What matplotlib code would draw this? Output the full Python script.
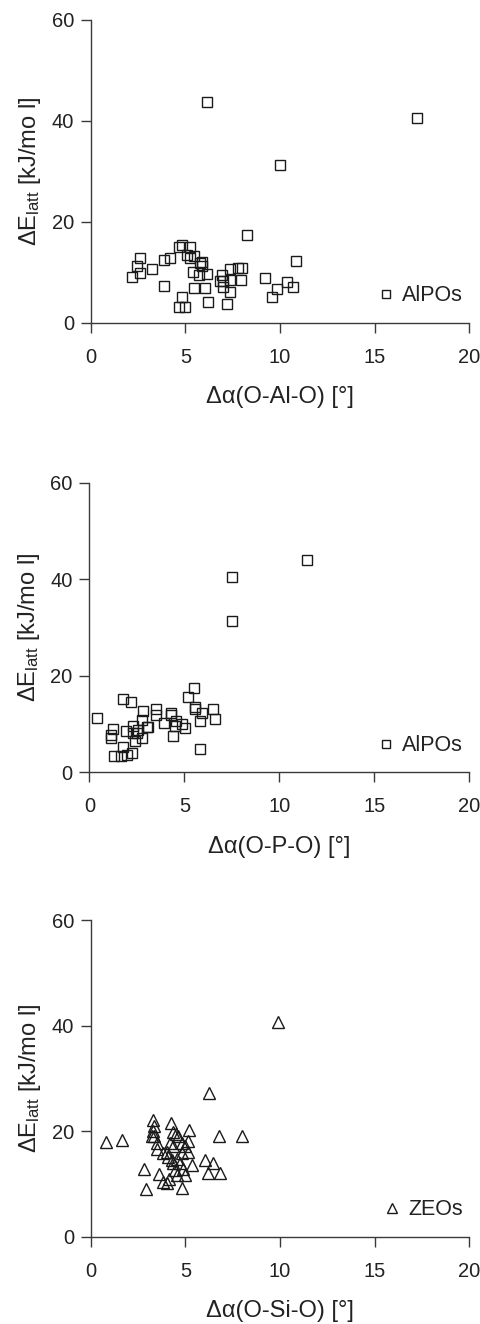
import matplotlib
matplotlib.use("Agg")
import matplotlib.pyplot as plt

plt.rcParams["font.family"] = ["Liberation Sans", "DejaVu Sans"]
plt.rcParams["mathtext.default"] = "regular"

INK = "#222222"
AXIS = "#3a3a3a"

# panel 1: AlPOs, O-Al-O angle
alo_x = [6.16, 17.25, 10.0, 8.24, 10.85, 2.17, 2.46, 2.6, 2.6, 3.22, 3.87, 3.87,
         4.19, 4.65, 4.8, 4.8, 4.65, 4.98, 5.07, 5.25, 5.25, 5.47, 5.42, 5.46,
         5.72, 5.77, 5.9, 5.86, 6.04, 6.16, 6.21, 6.83, 6.92, 6.97, 7.0, 7.22,
         7.36, 7.36, 7.36, 7.8, 7.98, 7.92, 9.2, 9.6, 9.82, 10.35, 10.7]
alo_y = [43.8, 40.6, 31.3, 17.4, 12.2, 9.1, 11.3, 12.9, 9.9, 10.6, 7.3, 12.4,
         12.9, 15.0, 15.3, 5.0, 3.2, 3.2, 13.4, 15.0, 12.9, 13.2, 10.1, 6.9,
         9.5, 11.8, 12.1, 11.3, 6.9, 9.6, 4.1, 8.2, 9.5, 7.1, 8.3, 3.6,
         10.6, 8.5, 6.0, 10.8, 10.9, 8.5, 8.9, 5.0, 6.6, 8.1, 7.1]

# panel 2: AlPOs, O-P-O angle
opo_x = [11.44, 7.49, 7.49, 5.51, 5.21, 1.79, 2.18, 0.39, 2.81, 3.51, 3.51, 4.28,
         4.28, 5.56, 5.56, 6.49, 6.61, 5.91, 5.82, 5.82, 3.93, 4.56, 4.86, 5.05,
         4.42, 4.51, 3.07, 2.75, 2.75, 2.32, 2.32, 2.4, 2.23, 2.0, 1.65, 1.3,
         1.75, 1.93, 1.23, 1.12, 1.16, 2.49, 2.58, 3.02]
opo_y = [44.0, 40.5, 31.4, 17.4, 15.5, 15.2, 14.6, 11.3, 12.8, 13.1, 11.8, 12.2,
         11.8, 13.6, 13.2, 13.1, 11.0, 12.2, 10.7, 4.9, 10.3, 10.6, 10.0, 9.1,
         7.5, 9.6, 9.3, 10.8, 7.2, 9.6, 8.2, 6.4, 3.9, 3.6, 3.4, 3.4,
         5.3, 8.6, 8.9, 7.7, 7.2, 8.1, 8.8, 9.3]

# panel 3: zeolites, O-Si-O angle
osi_x = [9.91, 6.27, 0.79, 1.65, 6.76, 7.99, 5.19, 3.27, 3.35, 4.23, 3.31, 3.35,
         3.49, 3.49, 4.37, 4.51, 4.63, 5.16, 4.98, 5.16, 4.81, 4.01, 4.1, 4.28,
         4.37, 4.54, 4.72, 5.33, 6.04, 6.44, 6.21, 6.83, 2.83, 2.9, 3.63, 3.84,
         4.01, 4.15, 4.54, 4.81, 4.98, 4.45, 4.86, 3.84, 4.37, 4.19, 4.81, 3.22]
osi_y = [40.7, 27.2, 18.0, 18.3, 19.1, 19.1, 20.3, 22.1, 21.0, 21.6, 20.1, 19.1,
         17.7, 16.7, 19.9, 19.5, 19.0, 18.2, 17.1, 16.1, 15.8, 16.1, 15.2, 14.5,
         14.0, 14.7, 13.9, 13.6, 14.5, 13.9, 12.1, 12.1, 12.9, 9.0, 11.9, 10.4,
         10.2, 10.9, 11.7, 9.3, 11.7, 12.6, 12.8, 15.8, 17.1, 17.7, 17.7, 19.0]

panels = [
    (alo_x, alo_y, "s", "AlPOs", "\u0394\u03b1(O-Al-O) [\u00b0]", [0.1886, 0.7563, 0.7871, 0.2286]),
    (opo_x, opo_y, "s", "AlPOs", "\u0394\u03b1(O-P-O) [\u00b0]", [0.1857, 0.4167, 0.7900, 0.2187]),
    (osi_x, osi_y, "^", "ZEOs", "\u0394\u03b1(O-Si-O) [\u00b0]", [0.1886, 0.0659, 0.7871, 0.2392]),
]

fig = plt.figure(figsize=(4.81, 13.24), dpi=100)
fig.patch.set_facecolor("white")

for xs, ys, mk, name, xlabel, rect in panels:
    ax = fig.add_axes(rect)
    ax.plot(xs, ys, mk, linestyle="none", markersize=9 if mk == "^" else 7.6,
            markerfacecolor="none", markeredgecolor="#1a1a1a",
            markeredgewidth=1.0, label=name)
    ax.set_xlim(0, 20)
    ax.set_ylim(0, 60)
    ax.set_xticks([0, 5, 10, 15, 20])
    ax.set_yticks([0, 20, 40, 60])
    for s in ("top", "right"):
        ax.spines[s].set_visible(False)
    for s in ("left", "bottom"):
        ax.spines[s].set_color(AXIS)
        ax.spines[s].set_linewidth(1.0)
    ax.tick_params(direction="out", length=7, width=1.0, color=AXIS,
                   labelsize=14.5, labelcolor=INK, pad=5)
    ax.tick_params(axis="x", pad=11)
    ax.set_xlabel(xlabel, fontsize=17, color=INK, labelpad=14)
    ax.set_ylabel("\u0394E$_{latt}$ [kJ/mo l]", fontsize=17, color=INK, labelpad=6)
    ax.legend(loc="lower right", bbox_to_anchor=(1.005, 0.025), frameon=False,
              fontsize=15.5, handlelength=0.6, handletextpad=0.45, markerscale=0.8,
              labelcolor=INK, borderaxespad=0)

fig.savefig("out.png", dpi=100, facecolor="white")
